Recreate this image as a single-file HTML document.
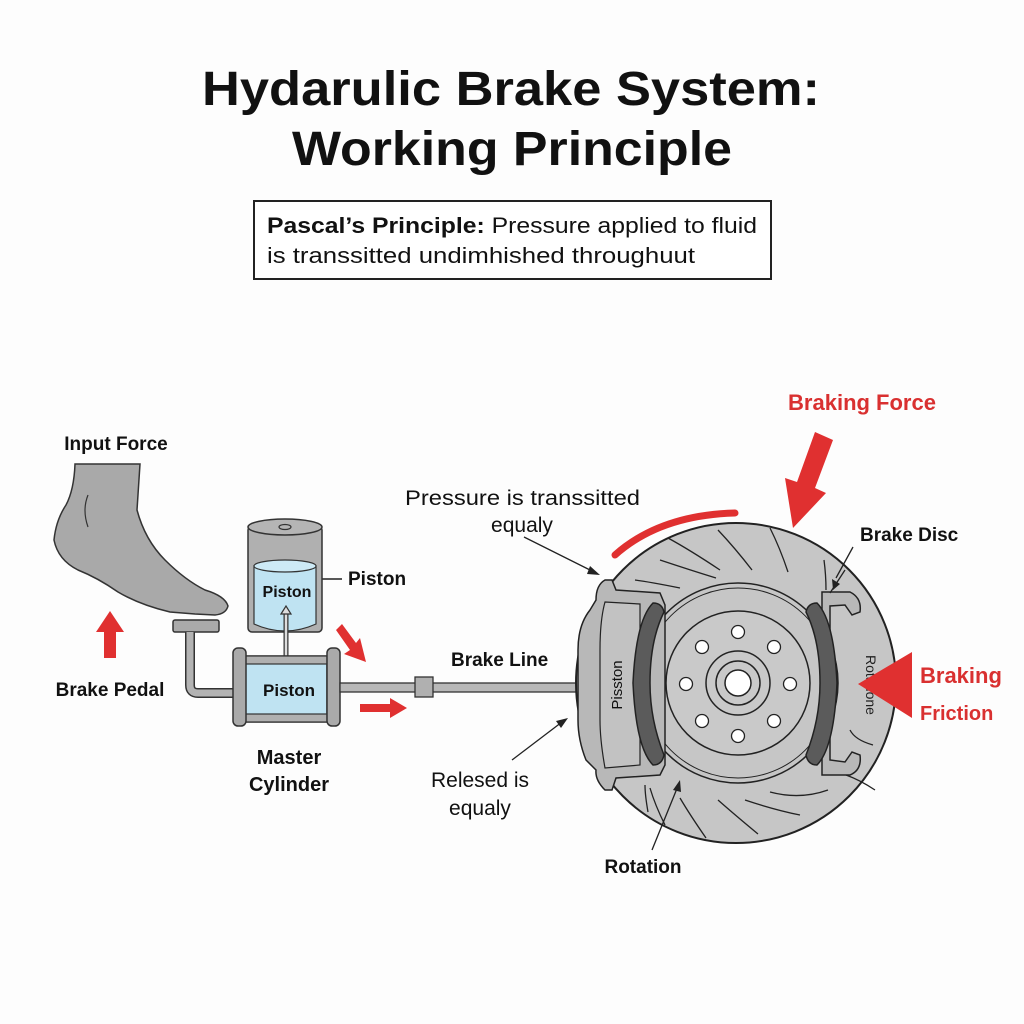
<!DOCTYPE html>
<html><head><meta charset="utf-8"><style>
html,body{margin:0;padding:0;background:#fff;}
svg{display:block;font-family:"Liberation Sans",sans-serif;}
</style></head><body>
<svg width="1024" height="1024" viewBox="0 0 1024 1024" xmlns="http://www.w3.org/2000/svg">
<rect width="1024" height="1024" fill="#fdfdfd"/>
<text x="202" y="105" textLength="618" lengthAdjust="spacingAndGlyphs" font-size="48" font-weight="bold" fill="#111">Hydarulic Brake System:</text>
<text x="292" y="165" textLength="440" lengthAdjust="spacingAndGlyphs" font-size="48" font-weight="bold" fill="#111">Working Principle</text>
<rect x="254" y="201" width="517" height="78" fill="#fff" stroke="#222" stroke-width="2"/>
<text x="267" y="233" textLength="490" lengthAdjust="spacingAndGlyphs" font-size="22" fill="#111"><tspan font-weight="bold">Pascal’s Principle:</tspan> Pressure applied to fluid</text>
<text x="267" y="263" textLength="428" lengthAdjust="spacingAndGlyphs" font-size="22" fill="#111">is transsitted undimhished throughuut</text>

<!-- left labels -->
<text x="116" y="450" text-anchor="middle" font-size="19" font-weight="bold" fill="#111">Input Force</text>
<text x="110" y="696" text-anchor="middle" font-size="19" font-weight="bold" fill="#111">Brake Pedal</text>
<text x="289" y="764" text-anchor="middle" font-size="20" font-weight="bold" fill="#111">Master</text>
<text x="289" y="791" text-anchor="middle" font-size="20" font-weight="bold" fill="#111">Cylinder</text>
<text x="348" y="585" font-size="19" font-weight="bold" fill="#111">Piston</text>
<line x1="322" y1="579" x2="342" y2="579" stroke="#222" stroke-width="1.5"/>

<!-- foot -->
<path d="M75 464 L140 464 L137 510 Q145 540 165 560 Q185 580 205 590 Q225 596 228 606 Q226 614 215 615 L195 614 L170 612 Q140 605 118 592 Q98 578 78 570 Q58 560 54 540 Q56 520 66 505 Q74 490 75 464 Z" fill="#a9a9a9" stroke="#333" stroke-width="1.5"/>
<path d="M88 495 Q82 510 88 527" fill="none" stroke="#333" stroke-width="1.2"/>
<!-- red up arrow -->
<path d="M104 658 L104 632 L96 632 L110 611 L124 632 L116 632 L116 658 Z" fill="#e03030"/>
<!-- pedal + rod -->
<rect x="173" y="620" width="46" height="12" rx="2" fill="#aaa" stroke="#333" stroke-width="1.5"/>
<path d="M190 632 L190 685 Q190 693 198 693 L233 693" fill="none" stroke="#333" stroke-width="10"/>
<path d="M190 632 L190 685 Q190 693 198 693 L233 693" fill="none" stroke="#b3b3b3" stroke-width="7"/>
<!-- reservoir -->
<rect x="248" y="526" width="74" height="106" rx="4" fill="#b0b0b0" stroke="#333" stroke-width="1.5"/>
<ellipse cx="285" cy="527" rx="37" ry="8" fill="#b5b5b5" stroke="#333" stroke-width="1.5"/>
<ellipse cx="285" cy="527" rx="6" ry="2.5" fill="none" stroke="#333" stroke-width="1.2"/>
<path d="M254 566 L254 624 Q285 638 316 624 L316 566 Z" fill="#bfe3f2" stroke="#333" stroke-width="1.2"/>
<ellipse cx="285" cy="566" rx="31" ry="6" fill="#cdeaf6" stroke="#333" stroke-width="1.2"/>
<text x="287" y="597" text-anchor="middle" font-size="16" font-weight="bold" fill="#111">Piston</text>
<!-- double arrow -->
<line x1="286" y1="612" x2="286" y2="670" stroke="#333" stroke-width="5"/>
<line x1="286" y1="612" x2="286" y2="670" stroke="#ddd" stroke-width="2.5"/>
<path d="M281 614 L286 606 L291 614 Z M281 668 L286 676 L291 668 Z" fill="#ddd" stroke="#333" stroke-width="1.2"/>
<!-- master cylinder -->
<rect x="245" y="656" width="82" height="66" fill="#bfe3f2" stroke="#333" stroke-width="1.5"/>
<rect x="245" y="656" width="82" height="8" fill="#b0b0b0" stroke="#333" stroke-width="1.2"/>
<rect x="245" y="714" width="82" height="8" fill="#b0b0b0" stroke="#333" stroke-width="1.2"/>
<rect x="233" y="648" width="13" height="78" rx="5" fill="#aaa" stroke="#333" stroke-width="1.5"/>
<rect x="327" y="648" width="13" height="78" rx="5" fill="#aaa" stroke="#333" stroke-width="1.5"/>
<text x="289" y="696" text-anchor="middle" font-size="17" font-weight="bold" fill="#111">Piston</text>
<!-- brake line -->
<rect x="340" y="683" width="240" height="9" fill="#b8b8b8" stroke="#333" stroke-width="1.3"/>
<rect x="415" y="677" width="18" height="20" fill="#b0b0b0" stroke="#333" stroke-width="1.3"/>
<text x="451" y="666" font-size="19" font-weight="bold" fill="#111">Brake Line</text>
<!-- red arrows near cylinder -->
<path d="M342 624 L356 643 L360 638 L366 662 L344 654 L350 650 L336 630 Z" fill="#e03030"/>
<path d="M360 704 L390 704 L390 698 L407 708 L390 718 L390 712 L360 712 Z" fill="#e03030"/>

<!-- middle labels -->
<text x="405" y="505" textLength="235" lengthAdjust="spacingAndGlyphs" font-size="21" fill="#111">Pressure is transsitted</text>
<text x="522" y="532" text-anchor="middle" font-size="21" fill="#111">equaly</text>
<line x1="524" y1="537" x2="596" y2="573" stroke="#222" stroke-width="1.3"/>
<path d="M600 575 L590 566 L587 574 Z" fill="#222"/>
<text x="480" y="787" text-anchor="middle" font-size="21" fill="#111">Relesed is</text>
<text x="480" y="815" text-anchor="middle" font-size="21" fill="#111">equaly</text>
<line x1="512" y1="760" x2="562" y2="722" stroke="#222" stroke-width="1.3"/>
<path d="M568 718 L556 721 L561 728 Z" fill="#222"/>

<!-- disc -->
<circle cx="736" cy="683" r="160" fill="#c6c6c6" stroke="#222" stroke-width="2"/>
<g stroke="#222" stroke-width="1.3" fill="none">
<path d="M668 538 Q690 550 720 570"/><path d="M718 530 Q735 548 752 570"/><path d="M770 528 Q780 548 788 572"/>
<path d="M824 560 Q826 575 826 590"/><path d="M635 580 Q650 582 680 588"/><path d="M660 560 Q690 570 716 578"/>
<path d="M828 790 Q800 800 770 792"/><path d="M800 815 Q775 810 745 800"/><path d="M758 834 Q735 815 718 800"/>
<path d="M706 838 Q690 815 680 798"/><path d="M665 825 Q655 805 650 788"/><path d="M648 812 Q645 795 645 785"/>
<path d="M850 730 Q855 740 873 745"/><path d="M846 775 Q860 780 875 790"/>
</g>
<circle cx="738" cy="683" r="100" fill="none" stroke="#222" stroke-width="1.5"/>
<circle cx="738" cy="683" r="95" fill="none" stroke="#222" stroke-width="1"/>
<circle cx="738" cy="683" r="72" fill="#c9c9c9" stroke="#222" stroke-width="1.5"/>
<circle cx="738" cy="683" r="32" fill="none" stroke="#222" stroke-width="1.5"/>
<circle cx="738" cy="683" r="22" fill="none" stroke="#222" stroke-width="1.5"/>
<circle cx="738" cy="683" r="13" fill="#fff" stroke="#222" stroke-width="1.5"/>
<g fill="#fff" stroke="#222" stroke-width="1.3">
<circle cx="738" cy="632" r="6.5"/><circle cx="774" cy="647" r="6.5"/><circle cx="790" cy="684" r="6.5"/><circle cx="774" cy="721" r="6.5"/>
<circle cx="738" cy="736" r="6.5"/><circle cx="702" cy="721" r="6.5"/><circle cx="686" cy="684" r="6.5"/><circle cx="702" cy="647" r="6.5"/>
</g>
<!-- left caliper -->
<path d="M605 580 L612 580 L616 590 L660 593 L665 605 L665 765 L660 775 L616 778 L612 790 L605 790 Q595 780 596 770 L586 760 Q578 740 578 720 L578 650 Q578 625 590 610 L596 600 Q596 585 605 580 Z" fill="#b8b8b8" stroke="#222" stroke-width="1.5"/>
<path d="M605 602 L640 604 L640 765 L605 768 Q600 740 600 720 L600 650 Q600 620 605 602 Z" fill="#c2c2c2" stroke="#222" stroke-width="1.2"/>
<text transform="translate(622 685) rotate(-90)" text-anchor="middle" font-size="15" fill="#111">Pisston</text>
<path d="M653 603 Q636 620 633 683 Q636 748 653 765 Q662 765 664 755 Q650 720 650 683 Q650 640 664 612 Q662 603 653 603 Z" fill="#5b5b5b" stroke="#222" stroke-width="1.5"/>
<!-- right caliper -->
<path d="M822 592 L850 592 Q862 598 860 612 L852 615 L845 605 L830 606 L830 760 L845 762 L852 752 L860 755 Q862 770 850 775 L822 775 Z" fill="#b8b8b8" stroke="#222" stroke-width="1.5"/>
<path d="M817 603 Q834 620 837 683 Q834 748 817 765 Q808 765 806 755 Q820 720 820 683 Q820 640 806 612 Q808 603 817 603 Z" fill="#5b5b5b" stroke="#222" stroke-width="1.5"/>
<text transform="translate(866 685) rotate(90)" text-anchor="middle" font-size="14" fill="#222">Rotatione</text>
<line x1="830" y1="593" x2="845" y2="570" stroke="#222" stroke-width="1.3"/>
<path d="M833 590 L832 579 L840 584 Z" fill="#222"/>
<text x="860" y="541" font-size="19" font-weight="bold" fill="#111">Brake Disc</text>
<line x1="853" y1="547" x2="836" y2="578" stroke="#222" stroke-width="1.3"/>
<!-- rotation label -->
<text x="643" y="873" text-anchor="middle" font-size="19" font-weight="bold" fill="#111">Rotation</text>
<line x1="652" y1="850" x2="678" y2="786" stroke="#222" stroke-width="1.3"/>
<path d="M680 780 L673 790 L681 792 Z" fill="#222"/>
<!-- red arc -->
<path d="M615 555 Q660 515 735 513" fill="none" stroke="#e03030" stroke-width="7" stroke-linecap="round"/>
<!-- braking force arrow -->
<text x="862" y="410" text-anchor="middle" font-size="22" font-weight="bold" fill="#d93030">Braking Force</text>
<path d="M815 432 L833 440 L815 488 L826 493 L793 528 L785 478 L797 482 Z" fill="#e03030"/>
<!-- braking friction -->
<path d="M858 684 L912 652 L912 718 Z" fill="#e03030"/>
<text x="920" y="683" font-size="22" font-weight="bold" fill="#d93030">Braking</text>
<text x="920" y="720" font-size="20" font-weight="bold" fill="#d93030">Friction</text>
</svg>
</body></html>
